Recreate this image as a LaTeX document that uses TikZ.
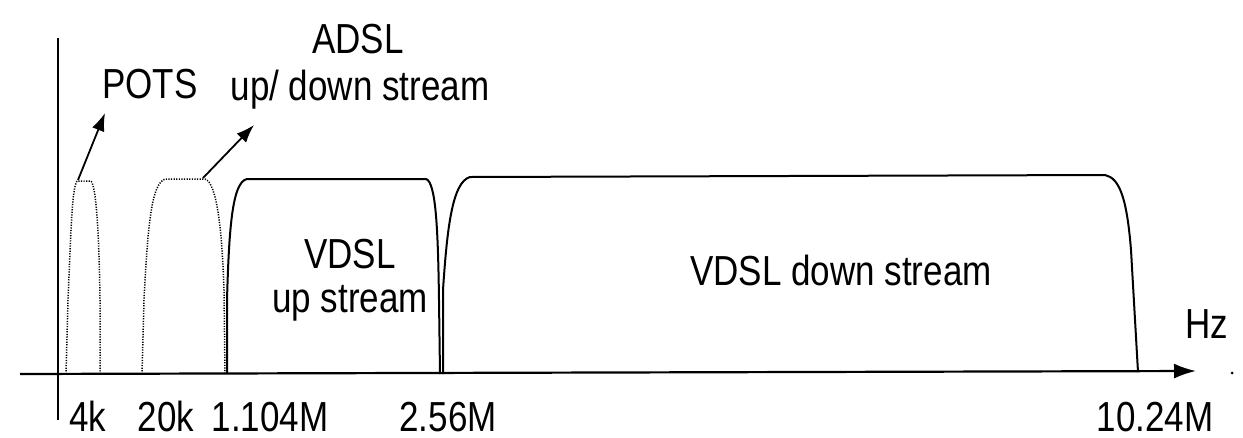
\documentclass[tikz,border=0pt]{standalone}
\usepackage{graphicx}
\usepackage{fontspec}
\setmainfont{Liberation Sans}
\usetikzlibrary{arrows.meta}
\newcommand{\tall}[1]{\scalebox{1}[1.2]{#1}}
\tikzset{
  lbl/.style={anchor=base, inner sep=0pt, font=\fontsize{35}{42}\selectfont},
  band/.style={line width=2pt, line join=round},
  dotband/.style={line width=1.5pt, dash pattern=on 1.2pt off 1.4pt},
  axisline/.style={line width=2.2pt},
  pointer/.style={line width=1.8pt, -{Latex[length=18pt,width=13pt]}},
}
\begin{document}
\begin{tikzpicture}[x=1pt,y=-1pt]
\useasboundingbox[fill=white] (0,0) rectangle (1243,437);
% axes
\coordinate (ytop) at (58,38);
\coordinate (ybot) at (58,420);
\coordinate (xstart) at (20,374);
\coordinate (xend) at (1196,371);
\draw[axisline] (ytop) -- (ybot);
\draw[axisline, -{Latex[length=22pt,width=15pt]}] (xstart) -- (xend);
\fill (1232,373) circle (1.5pt);
% POTS band (dotted)
\draw[dotband] (66,374) -- (68,300) .. controls (71,230) and (72,188) .. (77,181) -- (91,181) .. controls (96,186) and (99,230) .. (100,300) -- (100,374);
% ADSL band (dotted)
\draw[dotband] (142,374) -- (144,300) .. controls (148,220) and (152,184) .. (165,179) -- (205,179) .. controls (217,183) and (222,230) .. (224,290) -- (225,374);
% VDSL up stream band
\draw[band] (227,374) -- (227,300) .. controls (229,230) and (232,182) .. (247,179) -- (426,179) .. controls (436,182) and (438,230) .. (439,300) -- (440,374);
% VDSL down stream band
\draw[band] (443,374) -- (443,290) .. controls (447,230) and (452,182) .. (470,177) -- (1105,175) .. controls (1120,178) and (1127,200) .. (1131,250) -- (1138,372);
% labels
\node[lbl] (pots) at (150,98) {\tall{POTS}};
\node[lbl] (adsl) at (358,53) {\tall{ADSL}};
\node[lbl] (adslsub) at (360,100) {\tall{up/ down stream}};
\node[lbl] (vdslup) at (350,268) {\tall{VDSL}};
\node[lbl] (vdslupsub) at (350,312) {\tall{up stream}};
\node[lbl] (vdsldown) at (841,285) {\tall{VDSL down stream}};
\node[lbl] (hz) at (1207,338) {\tall{Hz}};
\node[lbl] (f4k) at (88,431) {\tall{4k}};
\node[lbl] (f20k) at (166,431) {\tall{20k}};
\node[lbl] (f1104) at (270,431) {\tall{1.104M}};
\node[lbl] (f256) at (448,431) {\tall{2.56M}};
\node[lbl] (f1024) at (1155,431) {\tall{10.24M}};
% pointers
\coordinate (potstop) at (78,180);
\coordinate (potstip) at (105,113);
\coordinate (adsltop) at (203,178);
\coordinate (adsltip) at (254,125);
\draw[pointer] (potstop) -- (potstip);
\draw[pointer] (adsltop) -- (adsltip);
\end{tikzpicture}
\end{document}
